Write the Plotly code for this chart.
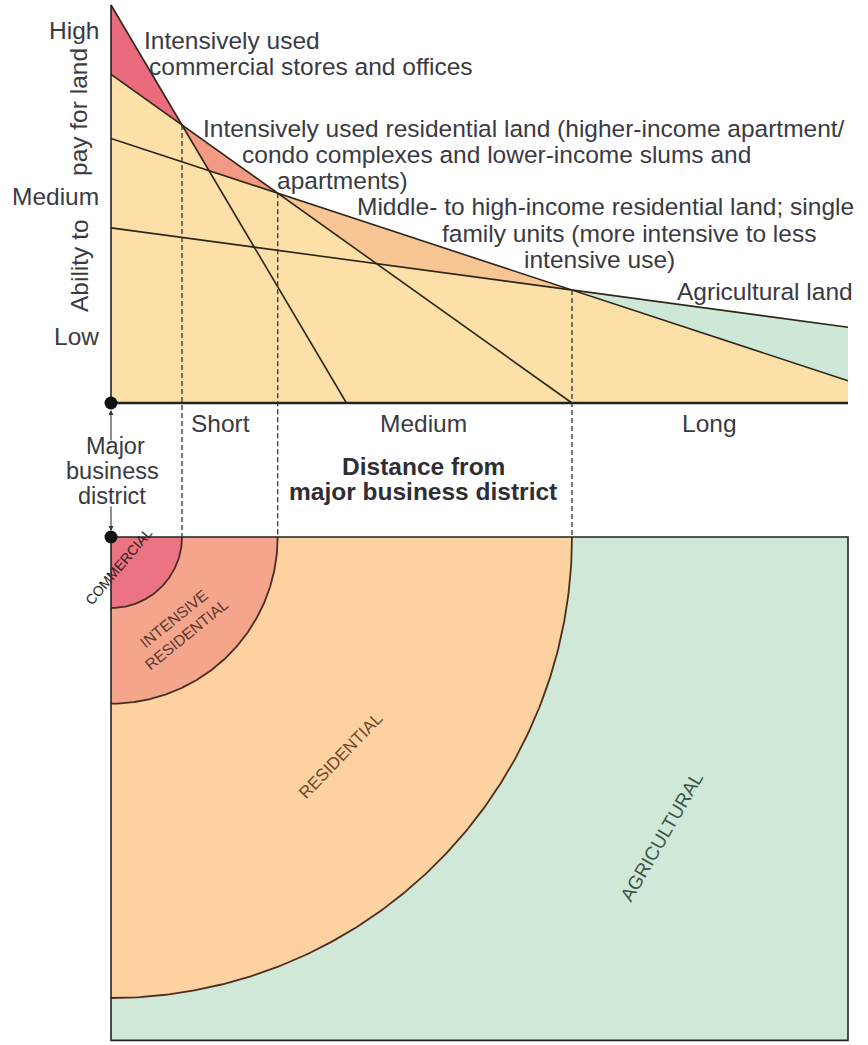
import numpy as np
import plotly.graph_objects as go

# ---------------- data ----------------
land_uses = ["Commercial", "Intensive residential", "Middle- to high-income residential", "Agricultural"]
pay_at_center = [100.0, 82.56, 66.48, 44.0]     # ability to pay at the business district (0-100 scale)
pay_gradient = [31.3, 13.2, 6.09, 2.496]        # drop in ability to pay per unit of distance
band_colors = ["#E96B7C", "#F29A84", "#F8C594", "#CDE8D6"]
map_colors = ["#EC7382", "#F4A58B", "#FDD1A0", "#CFE8D8"]
base_color = "#FCE0A7"
distance_labels = ["Short", "Medium", "Long"]
pay_labels = ["High", "Medium", "Low"]
pay_label_values = [93.5, 51.8, 16.8]
map_labels = ["COMMERCIAL", "INTENSIVE<br>RESIDENTIAL", "RESIDENTIAL", "AGRICULTURAL"]
DIST_MAX = 10.0
MAP_DEPTH = 6.83

# ---------------- layout geometry (pixels) ----------------
W, H = 868, 1045
PX_X0, PX_PER_DIST = 111, 73.7
PX_Y0_TOP, PX_PER_PAY = 403, 3.98
PX_Y0_MAP = 537

def paper(px, py):
    return px / W, 1 - py / H

def pay_to_map(v):
    py = PX_Y0_TOP - v * PX_PER_PAY
    return (PX_Y0_MAP - py) / PX_PER_DIST

c = np.array(pay_at_center)
g = np.array(pay_gradient)
n = len(c)

# sample points including all line crossings and x-intercepts
extra = []
for i in range(n):
    extra.append(c[i] / g[i])
    for j in range(i + 1, n):
        extra.append((c[i] - c[j]) / (g[i] - g[j]))
xs = np.unique(np.concatenate([np.linspace(0, DIST_MAX, 2001),
                               [e for e in extra if 0 <= e <= DIST_MAX]]))
vals = np.array([np.maximum(c[i] - g[i] * xs, 0) for i in range(n)])
srt = np.sort(vals, axis=0)
top = srt[-1]
second = srt[-2]

bounds = [0.0] + [(c[i] - c[i + 1]) / (g[i] - g[i + 1]) for i in range(n - 1)] + [DIST_MAX]

fig = go.Figure()

# base fill under the envelope
fig.add_trace(go.Scatter(x=np.concatenate([[0], xs, [DIST_MAX]]),
                         y=np.concatenate([[0], top, [0]]),
                         fill="toself", fillcolor=base_color, mode="none",
                         hoverinfo="skip", showlegend=False))

# bands between highest and second-highest bid
for k in range(n):
    a, b = bounds[k], bounds[k + 1]
    m = (xs >= a - 1e-9) & (xs <= b + 1e-9)
    xz = xs[m]
    fig.add_trace(go.Scatter(x=np.concatenate([xz, xz[::-1]]),
                             y=np.concatenate([top[m], second[m][::-1]]),
                             fill="toself", fillcolor=band_colors[k], mode="none",
                             hoverinfo="skip", showlegend=False))

# bid-rent lines
for i in range(n):
    xe = min(DIST_MAX, c[i] / g[i])
    fig.add_trace(go.Scatter(x=[0, xe], y=[c[i], c[i] - g[i] * xe], mode="lines",
                             line=dict(color="#2d2619", width=1.6),
                             hoverinfo="skip", showlegend=False))

# axes
fig.add_trace(go.Scatter(x=[0, 0], y=[0, max(c)], mode="lines",
                         line=dict(color="#222", width=1.6), showlegend=False, hoverinfo="skip"))
fig.add_trace(go.Scatter(x=[0, DIST_MAX], y=[0, 0], mode="lines",
                         line=dict(color="#222", width=2.6), showlegend=False, hoverinfo="skip"))
fig.add_trace(go.Scatter(x=[0], y=[0], mode="markers",
                         marker=dict(color="#111", size=13), showlegend=False, hoverinfo="skip"))

# ---------------- map (y2) ----------------
fig.add_trace(go.Scatter(x=[0, DIST_MAX, DIST_MAX, 0, 0], y=[0, 0, -MAP_DEPTH, -MAP_DEPTH, 0],
                         yaxis="y2", fill="toself", fillcolor=map_colors[3], mode="none",
                         showlegend=False, hoverinfo="skip"))
t = np.linspace(0, np.pi / 2, 200)
for k in [2, 1, 0]:
    r = bounds[k + 1]
    fig.add_trace(go.Scatter(x=np.concatenate([[0], r * np.cos(t), [0]]),
                             y=np.concatenate([[0], -r * np.sin(t), [0]]),
                             yaxis="y2", fill="toself", fillcolor=map_colors[k], mode="none",
                             showlegend=False, hoverinfo="skip"))
    fig.add_trace(go.Scatter(x=r * np.cos(t), y=-r * np.sin(t), yaxis="y2", mode="lines",
                             line=dict(color="#4a2e22", width=1.8),
                             showlegend=False, hoverinfo="skip"))
fig.add_trace(go.Scatter(x=[0, DIST_MAX, DIST_MAX, 0, 0], y=[0, 0, -MAP_DEPTH, -MAP_DEPTH, 0],
                         yaxis="y2", mode="lines", line=dict(color="#222", width=1.6),
                         showlegend=False, hoverinfo="skip"))

# dashed zone boundaries
for k in range(1, n):
    xb = bounds[k]
    vb = c[k] - g[k] * xb
    fig.add_trace(go.Scatter(x=[xb, xb], y=[pay_to_map(vb), 0], yaxis="y2", mode="lines",
                             line=dict(color="#333", width=1.3, dash="5px,3px"),
                             showlegend=False, hoverinfo="skip"))

fig.add_trace(go.Scatter(x=[0], y=[0], yaxis="y2", mode="markers",
                         marker=dict(color="#111", size=13), showlegend=False, hoverinfo="skip"))

# ---------------- text ----------------
TXT = "#3a3a42"
REG = "Liberation Sans, Arial, Helvetica, sans-serif"
FS = 24.5
ann = []

def text(s, px, py, size=FS, xanchor="left", color=TXT, angle=0, bold=False):
    x, y = paper(px, py)
    ann.append(dict(text=("<b>%s</b>" % s) if bold else s, x=x, y=y, xref="paper", yref="paper",
                    xanchor=xanchor, yanchor="middle", showarrow=False, textangle=angle,
                    font=dict(size=size, family=REG, color=color)))

text("Intensively used", 142, 41)
text("commercial stores and offices", 147, 67)
text("Intensively used residential land (higher-income apartment/", 201, 128)
text("condo complexes and lower-income slums and", 240, 154)
text("apartments)", 275, 180)
text("Middle- to high-income residential land; single", 355, 206)
text("family units (more intensive to less", 440, 233)
text("intensive use)", 522, 260)
text("Agricultural land", 675, 291)

for lab, v in zip(pay_labels, pay_label_values):
    text(lab, 101, PX_Y0_TOP - v * PX_PER_PAY, xanchor="right")
text("pay for land", 79, 112, xanchor="center", angle=-90)
text("Ability to", 79, 266, xanchor="center", angle=-90)

for lab, px in zip(distance_labels, [220, 423, 709]):
    text(lab, px, 423, xanchor="center")

text("Major", 115, 446, size=23.5, xanchor="center")
text("business", 112, 471, size=23.5, xanchor="center")
text("district", 112, 496, size=23.5, xanchor="center")
text("Distance from", 423, 466, xanchor="center", bold=True, color="#2e2e34")
text("major business district", 423, 492, xanchor="center", bold=True, color="#2e2e34")

# arrows to the business district dots
for hx, hy, ay in [(111, 410, 32), (111, 531, -26)]:
    x, y = paper(hx, hy)
    ann.append(dict(x=x, y=y, xref="paper", yref="paper", ax=0, ay=ay, text="",
                    showarrow=True, arrowhead=2, arrowsize=0.9, arrowwidth=1.1, arrowcolor="#333"))

# map labels
text(map_labels[0], 119, 566, size=14, xanchor="center", color="#2a2226", angle=-50)
text(map_labels[1], 180, 626, size=15.5, xanchor="center", color="#5a3a30", angle=-39)
text(map_labels[2], 340, 756, size=17, xanchor="center", color="#6a4a2e", angle=-46)
text(map_labels[3], 661, 837, size=19, xanchor="center", color="#3f5548", angle=-60)

x_range = [(0 - PX_X0) / PX_PER_DIST, (W - PX_X0) / PX_PER_DIST]
y_range = [(PX_Y0_TOP - H) / PX_PER_PAY, PX_Y0_TOP / PX_PER_PAY]
y2_range = [(PX_Y0_MAP - H) / PX_PER_DIST, PX_Y0_MAP / PX_PER_DIST]

fig.update_layout(
    width=W, height=H, margin=dict(l=0, r=0, t=0, b=0),
    paper_bgcolor="white", plot_bgcolor="white", template="none",
    xaxis=dict(range=x_range, visible=False, domain=[0, 1], fixedrange=True),
    yaxis=dict(range=y_range, visible=False, domain=[0, 1], fixedrange=True),
    yaxis2=dict(range=y2_range, visible=False, overlaying="y", anchor="x", fixedrange=True),
    annotations=ann, showlegend=False,
)

fig.write_html("out.html", config={"displayModeBar": False},
               post_script="document.body.style.margin='0px';document.body.style.overflow='hidden';")
